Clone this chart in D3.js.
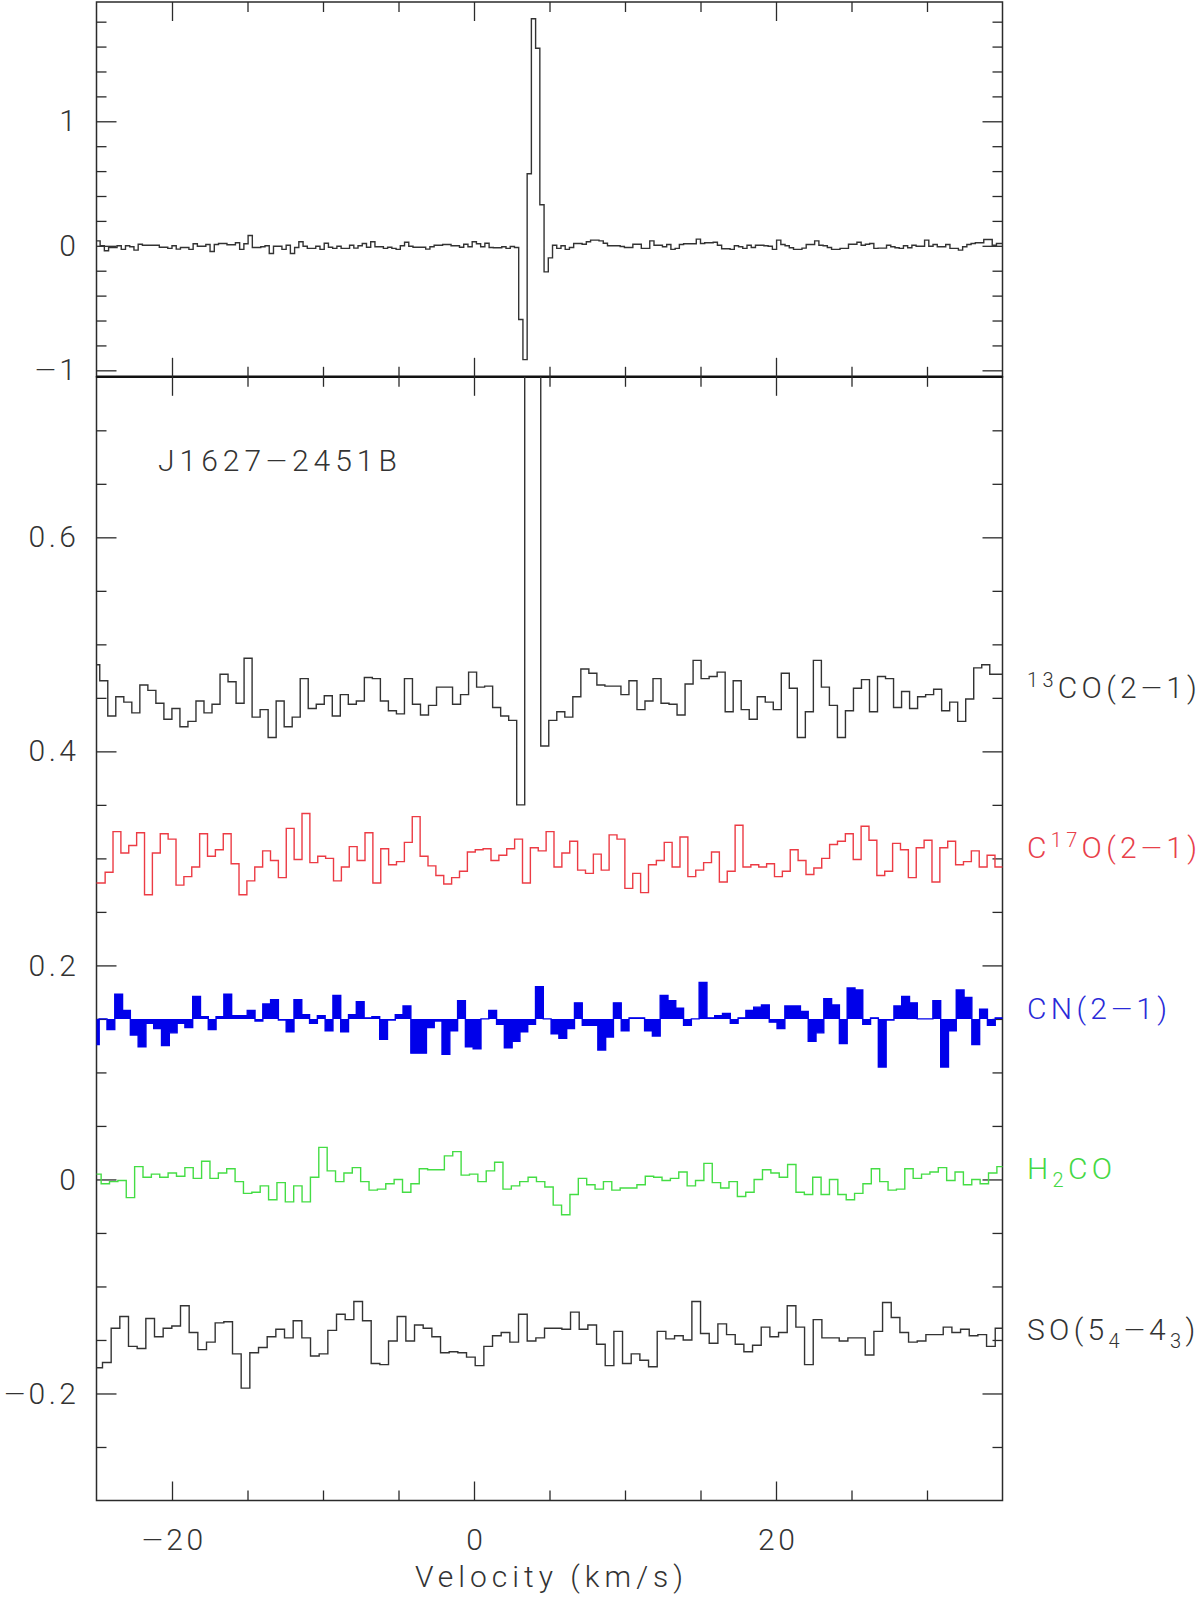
<!DOCTYPE html>
<html>
<head>
<meta charset="utf-8">
<script src="https://cdn.jsdelivr.net/npm/d3@7"></script>
<style>
  body { margin: 0; background: #ffffff; }
  text { font-family: Roboto, "DejaVu Sans", sans-serif; font-weight: 300; }
</style>
</head>
<body>
<svg id="chart" width="1200" height="1597"></svg>
<script>
// axis ranges and ticks
let xDomain = [-25, 35];
let topDomain = [-1.052, 1.958];
let lowDomain = [-0.3, 0.75];
let xMajor = [-20, 0, 20];
let xMinor = [-15, -10, -5, 5, 10, 15, 25, 30];
let topMajor = [-1, 0, 1];
let topMinor = [-0.8, -0.6, -0.4, -0.2, 0.2, 0.4, 0.6, 0.8, 1.2, 1.4, 1.6, 1.8];
let lowMajor = [-0.2, 0, 0.2, 0.4, 0.6];
let lowMinor = [-0.25, -0.15, -0.1, -0.05, 0.05, 0.1, 0.15, 0.25, 0.3, 0.35, 0.45, 0.5, 0.55, 0.65, 0.7];
let sourceName = "J1627\u22122451B";
let xTitle = "Velocity (km/s)";

// top panel spectrum (centre of first channel, channel width, T)
let topV0 = -24.90, topDv = 0.28;
let topSpectrum = [
  0.040, 0.000, -0.040, -0.013, -0.013, 0.000, -0.029, 0.000, -0.008, -0.035,
  0.013, 0.005, 0.005, 0.005, 0.005, -0.011, -0.011, -0.021, 0.000, -0.027,
  -0.013, -0.013, -0.029, 0.016, -0.003, -0.003, 0.011, -0.046, 0.011, 0.019,
  0.019, 0.008, 0.008, 0.024, -0.029, 0.016, 0.083, -0.013, -0.013, -0.008,
  0.000, -0.062, -0.003, -0.003, -0.029, 0.005, -0.062, -0.013, 0.032, -0.003,
  -0.021, -0.021, -0.003, -0.029, 0.021, -0.011, -0.021, -0.003, -0.021, -0.021,
  0.005, -0.019, 0.000, 0.019, -0.011, 0.032, -0.008, -0.008, -0.021, -0.011,
  -0.021, -0.029, 0.000, 0.029, -0.003, -0.011, -0.011, -0.011, -0.027, -0.008,
  0.005, 0.005, 0.011, 0.011, 0.000, 0.000, -0.011, 0.013, -0.008, 0.032,
  0.016, -0.008, 0.021, -0.013, -0.016, -0.016, -0.008, -0.021, -0.005, -0.013,
  -0.592, -0.914, 0.579, 1.823, 1.587, 0.330, -0.209, -0.097,
  0.005, -0.021, 0.000, -0.029, -0.013, 0.019, 0.019, 0.013, 0.032, 0.046,
  0.046, 0.040, 0.020, 0.000, 0.000, 0.000, -0.005, -0.013, -0.013, 0.013,
  0.013, -0.021, -0.021, 0.040, 0.005, 0.005, -0.008, 0.011, -0.029, -0.021,
  0.011, 0.016, 0.016, 0.016, 0.054, 0.019, 0.024, 0.024, 0.029, 0.005,
  -0.024, -0.024, -0.029, 0.000, -0.008, -0.021, 0.005, -0.013, 0.005, 0.005,
  0.000, -0.003, -0.029, 0.046, 0.011, 0.000, -0.016, -0.029, -0.029, -0.019,
  0.011, 0.011, 0.040, 0.005, 0.000, -0.013, -0.029, -0.029, -0.021, -0.021,
  0.013, 0.013, 0.029, 0.005, 0.013, 0.019, -0.021, -0.019, -0.019, 0.005,
  -0.008, -0.016, -0.021, 0.000, -0.016, 0.005, -0.003, -0.003, 0.046, -0.003,
  0.011, -0.008, -0.008, 0.011, -0.021, -0.021, -0.035, -0.008, 0.011, 0.019,
  0.024, 0.024, 0.051, 0.051, 0.005, 0.019, 0.019
];

// lower panel: 13CO(2-1)
let co13V0 = -25.05, co13Dv = 0.531, co13Offset = 0.45;
let co13Spectrum = [
  0.031, 0.016, -0.017, 0.001, -0.004, -0.014, 0.012, 0.007, -0.005, -0.020,
  -0.010, -0.027, -0.022, -0.003, -0.014, -0.006, 0.022, 0.015, -0.005, 0.037,
  -0.018, -0.011, -0.037, -0.003, -0.027, -0.018, 0.018, -0.010, -0.006, 0.002,
  -0.017, 0.003, -0.006, -0.003, 0.019, 0.018, -0.003, -0.012, -0.015, 0.018,
  -0.006, -0.016, -0.007, 0.010, 0.010, -0.006, 0.003, 0.024, 0.010, 0.011,
  -0.009, -0.017, -0.021, -0.100, 0.900, 0.600, -0.045, -0.021, -0.013, -0.018,
  0.001, 0.027, 0.023, 0.012, 0.011, 0.011, 0.003, 0.016, -0.011, -0.003,
  0.018, -0.005, -0.006, -0.016, 0.013, 0.035, 0.018, 0.020, 0.024, -0.013,
  0.016, -0.011, -0.020, 0.001, -0.004, -0.011, 0.023, 0.009, -0.037, -0.013,
  0.035, 0.010, -0.007, -0.037, -0.012, 0.009, 0.017, -0.013, 0.020, 0.018,
  -0.009, 0.006, -0.010, 0.001, 0.003, 0.008, -0.012, -0.004, -0.022, -0.001,
  0.028, 0.031, 0.022, 0.022
];

// C17O(2-1)
let c17oV0 = -25.21, c17oDv = 0.5215, c17oOffset = 0.30;
let c17oSpectrum = [
  -0.023, -0.023, -0.013, 0.025, 0.005, 0.012, 0.024, -0.034, 0.005, 0.023,
  0.018, -0.025, -0.017, -0.008, 0.023, 0.002, 0.008, 0.023, -0.005, -0.034,
  -0.021, -0.008, 0.007, -0.002, -0.018, 0.028, -0.001, 0.042, -0.004, 0.002,
  0.000, -0.021, -0.008, 0.011, -0.002, 0.024, -0.023, 0.009, -0.006, -0.003,
  0.015, 0.039, 0.002, -0.007, -0.016, -0.024, -0.018, -0.012, 0.006, 0.008,
  0.009, -0.002, 0.003, 0.009, 0.018, -0.023, 0.010, 0.007, 0.025, -0.008,
  0.005, 0.016, -0.011, -0.014, 0.004, -0.011, 0.022, 0.018, -0.028, -0.014,
  -0.032, -0.006, -0.002, 0.015, -0.008, 0.020, -0.017, -0.011, -0.004, 0.006,
  -0.022, -0.012, 0.031, -0.008, -0.006, -0.008, -0.005, -0.017, -0.012, 0.008,
  -0.002, -0.015, -0.009, 0.000, 0.013, 0.016, 0.023, -0.001, 0.030, 0.017,
  -0.016, -0.012, 0.014, 0.008, -0.018, 0.010, 0.017, -0.022, 0.010, 0.016,
  -0.006, -0.003, 0.007, -0.008, 0.003, -0.008
];

// CN(2-1)
let cnV0 = -25.08, cnDv = 0.516, cnOffset = 0.15;
let cnSpectrum = [
  -0.024, 0.000, -0.010, 0.023, 0.008, -0.015, -0.026, -0.004, -0.009, -0.025,
  -0.013, -0.004, -0.008, 0.021, 0.002, -0.010, 0.002, 0.023, 0.003, 0.003,
  0.008, -0.002, 0.014, 0.018, -0.001, -0.012, 0.018, 0.004, -0.004, 0.003,
  -0.011, 0.022, -0.012, 0.004, 0.016, 0.001, 0.002, -0.019, -0.001, 0.004,
  0.012, -0.032, -0.032, -0.008, -0.002, -0.033, -0.011, 0.017, -0.026, -0.028,
  0.000, 0.008, -0.005, -0.027, -0.021, -0.012, -0.005, 0.030, 0.000, -0.014,
  -0.018, -0.009, 0.015, -0.006, -0.006, -0.029, -0.017, 0.015, -0.011, 0.001,
  0.001, -0.011, -0.016, 0.022, 0.017, 0.010, -0.006, 0.000, 0.034, 0.001,
  0.003, 0.005, -0.004, 0.001, 0.008, 0.011, 0.013, -0.003, -0.009, 0.012,
  0.012, 0.007, -0.021, -0.013, 0.019, 0.013, -0.023, 0.029, 0.027, -0.005,
  0.001, -0.045, -0.001, 0.012, 0.021, 0.015, 0.000, 0.000, 0.017, -0.045,
  -0.011, 0.027, 0.020, -0.024, 0.009, -0.006, 0.001
];

// H2CO
let h2coV0 = -24.97, h2coDv = 0.5544, h2coOffset = 0;
let h2coSpectrum = [
  0.005, -0.004, -0.002, -0.001, -0.017, 0.012, 0.002, 0.005, 0.002, 0.006,
  0.003, 0.011, 0.001, 0.017, 0.001, 0.006, 0.010, -0.002, -0.013, -0.012,
  -0.006, -0.019, -0.003, -0.021, -0.006, -0.021, 0.002, 0.030, 0.008, -0.002,
  0.006, 0.011, -0.002, -0.010, -0.009, -0.004, 0.000, -0.012, -0.004, 0.010,
  0.009, 0.009, 0.022, 0.026, 0.004, 0.005, -0.002, 0.008, 0.016, -0.009,
  -0.006, -0.002, 0.002, -0.002, -0.007, -0.024, -0.033, -0.014, 0.001, -0.005,
  -0.009, -0.002, -0.010, -0.008, -0.008, -0.005, 0.003, 0.002, -0.001, 0.001,
  0.007, -0.006, -0.001, 0.015, -0.003, -0.008, -0.002, -0.016, -0.012, 0.000,
  0.009, 0.006, 0.002, 0.014, -0.012, -0.014, 0.002, -0.014, 0.000, -0.014,
  -0.019, -0.013, -0.004, 0.010, -0.002, -0.010, -0.009, 0.010, 0.001, 0.005,
  0.007, 0.011, -0.001, 0.007, -0.005, 0.000, -0.004, 0.006, 0.012
];

// SO(5_4-4_3)
let soV0 = -24.89, soDv = 0.574, soOffset = -0.15;
let soSpectrum = [
  -0.026, -0.021, 0.011, 0.022, -0.006, -0.008, 0.020, 0.003, 0.011, 0.013,
  0.032, 0.007, -0.009, -0.002, 0.016, 0.017, -0.013, -0.045, -0.012, -0.007,
  0.003, 0.010, 0.002, 0.018, 0.002, -0.015, -0.013, 0.009, 0.024, 0.019,
  0.036, 0.018, -0.022, -0.023, -0.001, 0.022, -0.001, 0.014, 0.011, 0.003,
  -0.012, -0.011, -0.012, -0.016, -0.024, -0.006, 0.004, 0.007, -0.002, 0.024,
  -0.001, 0.002, 0.011, 0.011, 0.010, 0.026, 0.010, 0.014, -0.004, -0.024,
  0.008, -0.022, -0.013, -0.019, -0.025, 0.008, 0.001, 0.004, 0.000, 0.036,
  0.006, -0.003, 0.015, 0.005, -0.004, -0.011, -0.005, 0.012, 0.003, 0.007,
  0.032, 0.012, -0.023, 0.019, 0.002, 0.002, -0.001, 0.002, 0.002, -0.014,
  0.008, 0.035, 0.021, 0.007, -0.002, -0.001, 0.005, 0.005, 0.012, 0.007,
  0.010, 0.004, 0.005, -0.006, 0.011
];

// line names, split into normal / superscript / subscript parts
let lineNames = [
  [["13", "sup"], ["CO(2\u22121)", ""]],
  [["C", ""], ["17", "sup"], ["O(2\u22121)", ""]],
  [["CN(2\u22121)", ""]],
  [["H", ""], ["2", "sub"], ["CO", ""]],
  [["SO(5", ""], ["4", "sub"], ["\u22124", ""], ["3", "sub"], [")", ""]]
];

let left = 96.5, right = 1002.5;
let topY = 2, midY = 376.8, bottomY = 1500.5;
let ink = "#2b2b2b";

let spectra = [
  {v0: co13V0, dv: co13Dv, values: co13Spectrum, offset: co13Offset, color: "#333333", fill: false},
  {v0: c17oV0, dv: c17oDv, values: c17oSpectrum, offset: c17oOffset, color: "#ec3b44", fill: false},
  {v0: cnV0, dv: cnDv, values: cnSpectrum, offset: cnOffset, color: "#0000ea", fill: true},
  {v0: h2coV0, dv: h2coDv, values: h2coSpectrum, offset: h2coOffset, color: "#44dd44", fill: false},
  {v0: soV0, dv: soDv, values: soSpectrum, offset: soOffset, color: "#333333", fill: false}
];
let labelColors = ["#333333", "#e8404a", "#2a2ad8", "#44d844", "#333333"];

let svg = d3.select("#chart");

let x = d3.scaleLinear().domain(xDomain).range([left, right]);
let yTop = d3.scaleLinear().domain(topDomain).range([midY, topY]);
let yLow = d3.scaleLinear().domain(lowDomain).range([bottomY, midY]);

let defs = svg.append("defs");
defs.append("clipPath").attr("id", "clip-top").append("rect")
  .attr("x", left).attr("y", topY).attr("width", right - left).attr("height", midY - topY);
defs.append("clipPath").attr("id", "clip-low").append("rect")
  .attr("x", left).attr("y", midY).attr("width", right - left).attr("height", bottomY - midY);

// histogram outline: each channel is a flat step of width dv
function stepPoints(v0, dv, values, offset) {
  let pts = [];
  values.forEach(function(t, i) {
    let c = v0 + i * dv;
    pts.push([c - dv / 2, t + offset]);
    pts.push([c + dv / 2, t + offset]);
  });
  return pts;
}

// the plot font has a long minus: draw it as a small em dash
function addText(parent, s) {
  s.split("\u2212").forEach(function(part, i) {
    if (i > 0) parent.append("tspan").attr("font-size", 27).text("\u2014");
    if (part) parent.append("tspan").text(part);
  });
}

function longMinus(sel) {
  sel.each(function() {
    let t = d3.select(this);
    let s = t.text();
    if (s.indexOf("\u2212") < 0) return;
    t.text(null);
    addText(t, s);
  });
}

// inward ticks on all four sides of a panel
function frameTicks(yScale, yMajor, yMinor, y0, y1) {
  let g = svg.append("g");
  [[xMajor, 19], [xMinor, 10]].forEach(function(p) {
    g.append("g").attr("transform", "translate(0," + y1 + ")")
      .call(d3.axisBottom(x).tickValues(p[0]).tickSize(-p[1]).tickFormat(""));
    g.append("g").attr("transform", "translate(0," + y0 + ")")
      .call(d3.axisTop(x).tickValues(p[0]).tickSize(-p[1]).tickFormat(""));
  });
  [[yMajor, 20], [yMinor, 10]].forEach(function(p) {
    g.append("g").attr("transform", "translate(" + left + ",0)")
      .call(d3.axisLeft(yScale).tickValues(p[0]).tickSize(-p[1]).tickFormat(""));
    g.append("g").attr("transform", "translate(" + right + ",0)")
      .call(d3.axisRight(yScale).tickValues(p[0]).tickSize(-p[1]).tickFormat(""));
  });
  g.selectAll(".domain").remove();
  g.selectAll("text").remove();
  g.selectAll("line").attr("stroke", ink).attr("stroke-width", 1.3);
}

function styleLabels(g) {
  g.select(".domain").remove();
  g.attr("font-family", null).attr("font-size", 30).attr("color", "#333333");
  g.selectAll("text").attr("letter-spacing", 3.5).call(longMinus);
}

// frames
svg.append("rect").attr("x", left).attr("y", topY).attr("width", right - left).attr("height", midY - topY)
  .attr("fill", "none").attr("stroke", ink).attr("stroke-width", 1.5);
svg.append("rect").attr("x", left).attr("y", midY).attr("width", right - left).attr("height", bottomY - midY)
  .attr("fill", "none").attr("stroke", ink).attr("stroke-width", 1.5);
svg.append("line").attr("x1", left).attr("x2", right).attr("y1", midY).attr("y2", midY)
  .attr("stroke", "#111").attr("stroke-width", 2.4);

frameTicks(yTop, topMajor, topMinor, topY, midY);
frameTicks(yLow, lowMajor, lowMinor, midY, bottomY);

// tick labels
svg.append("g").attr("transform", "translate(" + left + ",0)")
  .call(d3.axisLeft(yTop).tickValues(topMajor).tickSize(0).tickPadding(17).tickFormat(d3.format("~g")))
  .call(styleLabels);
svg.append("g").attr("transform", "translate(" + left + ",0)")
  .call(d3.axisLeft(yLow).tickValues(lowMajor).tickSize(0).tickPadding(17).tickFormat(d3.format("~g")))
  .call(styleLabels);
svg.append("g").attr("transform", "translate(0," + bottomY + ")")
  .call(d3.axisBottom(x).tickValues(xMajor).tickSize(0).tickPadding(28).tickFormat(d3.format("~g")))
  .call(styleLabels)
  .selectAll(".tick text").attr("dx", 1.75);

svg.append("text").attr("x", (left + right) / 2 + 2).attr("y", 1587)
  .attr("text-anchor", "middle").attr("font-size", 30).attr("letter-spacing", 5)
  .attr("fill", "#333333").text(xTitle);

let title = svg.append("text").attr("x", 158).attr("y", 471)
  .attr("font-size", 30).attr("letter-spacing", 5)
  .attr("fill", "#333333");
addText(title, sourceName);

let line = d3.line().x(d => x(d[0]));

// top panel spectrum
svg.append("path")
  .datum(stepPoints(topV0, topDv, topSpectrum, 0))
  .attr("clip-path", "url(#clip-top)")
  .attr("fill", "none").attr("stroke", "#333333").attr("stroke-width", 1.4)
  .attr("d", line.y(d => yTop(d[1])));

// lower panel spectra
let lowLine = d3.line().x(d => x(d[0])).y(d => yLow(d[1]));
spectra.forEach(function(s) {
  let pts = stepPoints(s.v0, s.dv, s.values, s.offset);
  if (s.fill) {
    let area = d3.area().x(d => x(d[0])).y0(yLow(s.offset)).y1(d => yLow(d[1]));
    svg.append("path").datum(pts)
      .attr("clip-path", "url(#clip-low)")
      .attr("fill", s.color).attr("d", area);
  }
  svg.append("path").datum(pts)
    .attr("clip-path", "url(#clip-low)")
    .attr("fill", "none").attr("stroke", s.color).attr("stroke-width", 1.4)
    .attr("d", lowLine);
});

// line labels on the right
lineNames.forEach(function(parts, i) {
  let t = svg.append("text")
    .attr("x", 1027).attr("y", yLow(spectra[i].offset))
    .attr("dy", "0.35em").attr("font-size", 30).attr("letter-spacing", 4.3)
    .attr("fill", labelColors[i]);
  let shift = 0;
  parts.forEach(function(p) {
    let want = p[1] == "sup" ? -11 : (p[1] == "sub" ? 8 : 0);
    let span = t.append("tspan")
      .attr("dy", want - shift)
      .attr("font-size", p[1] == "" ? 30 : 20);
    if (p[1] == "") addText(span, p[0]); else span.text(p[0]);
    shift = want;
  });
});
</script>
</body>
</html>
